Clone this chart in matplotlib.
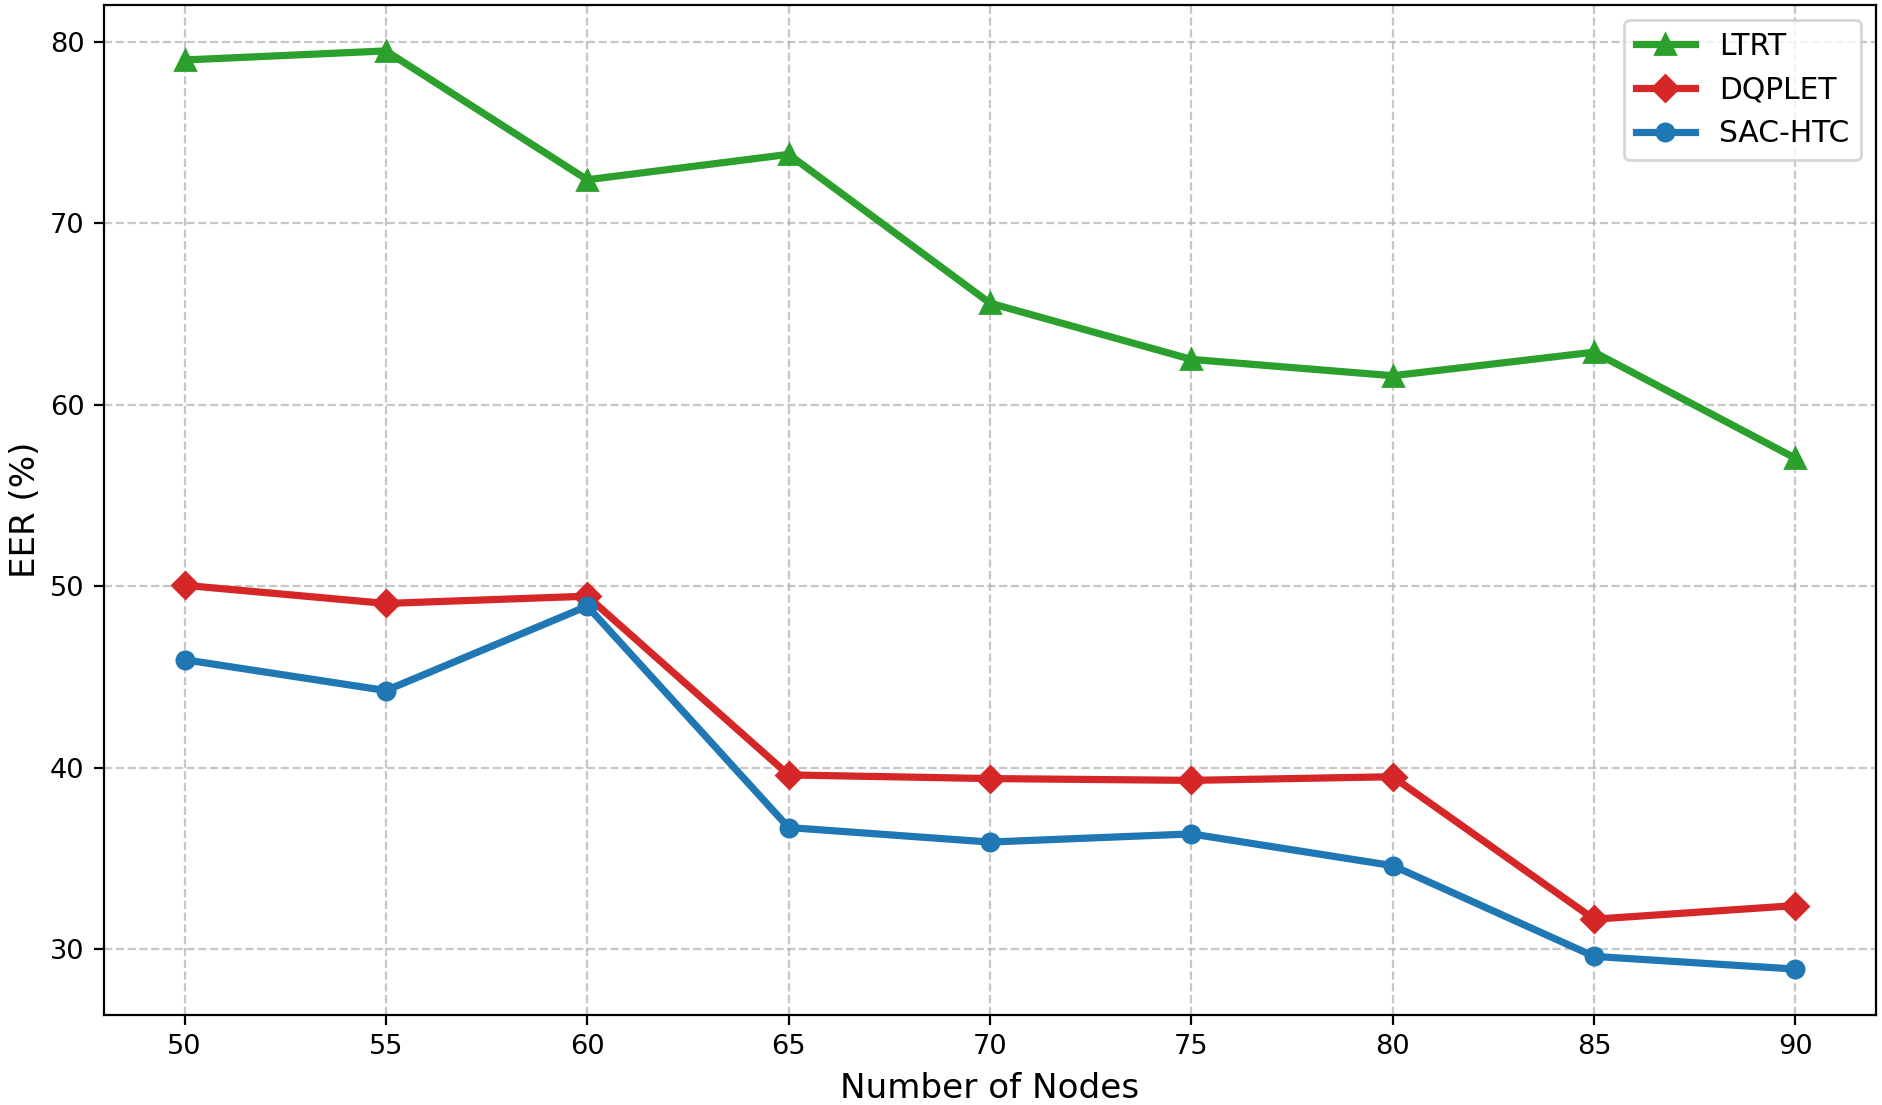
import matplotlib
matplotlib.use('Agg')
import matplotlib.pyplot as plt

nodes = [50, 55, 60, 65, 70, 75, 80, 85, 90]
ltrt = [79.0, 79.5, 72.4, 73.8, 65.6, 62.5, 61.6, 62.9, 57.05]
dqplet = [50.05, 49.05, 49.45, 39.6, 39.4, 39.3, 39.5, 31.65, 32.4]
sac_htc = [45.95, 44.25, 48.9, 36.7, 35.9, 36.35, 34.6, 29.6, 28.9]

fig = plt.figure(figsize=(1883 / 200, 1105 / 200), dpi=200)
ax = fig.add_axes([104 / 1883, 1 - 1015 / 1105, (1876 - 104) / 1883, (1015 - 5) / 1105])

ax.plot(nodes, ltrt, color='#2ca02c', marker='^', markersize=7, linewidth=2.6, label='LTRT')
ax.plot(nodes, dqplet, color='#d62728', marker='D', markersize=6.5, linewidth=2.6, label='DQPLET')
ax.plot(nodes, sac_htc, color='#1f77b4', marker='o', markersize=6.2, linewidth=2.6, label='SAC-HTC')

ax.set_xticks(nodes)
ax.tick_params(labelsize=9.8)
ax.set_xlabel('Number of Nodes', fontsize=12.3, labelpad=4)
ax.set_ylabel('EER (%)', fontsize=12.3, labelpad=3)
ax.grid(True, linestyle='--', alpha=0.7)
ax.legend(loc='upper right', fontsize=10.7)

fig.savefig('out.png', dpi=200)
